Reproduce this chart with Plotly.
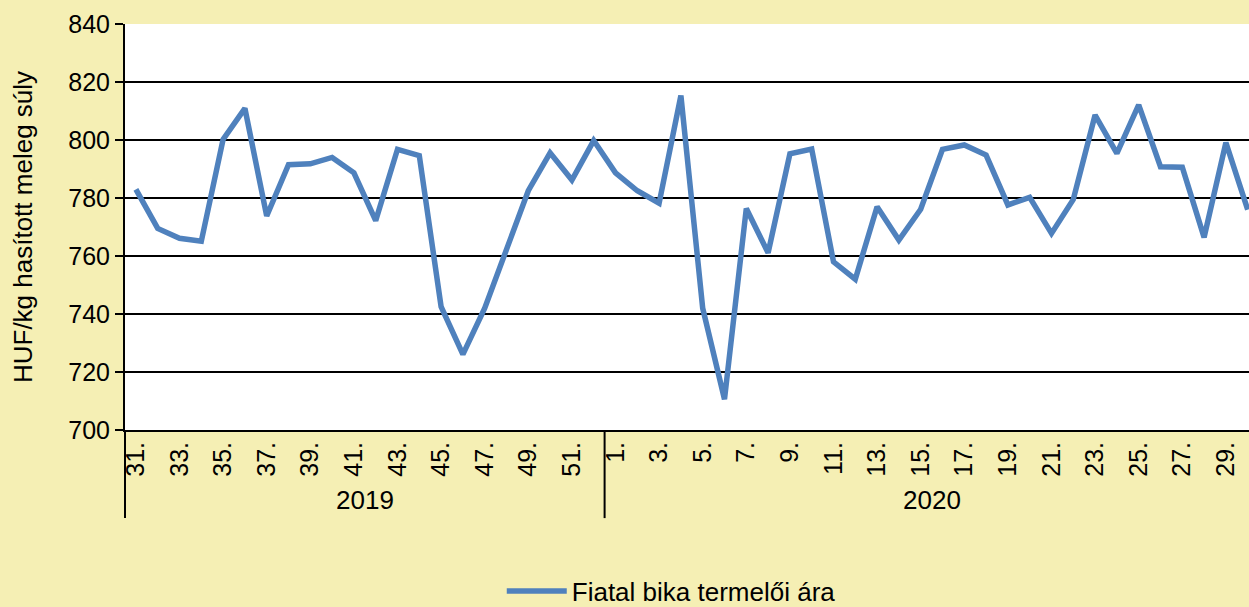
import plotly.graph_objects as go

# ---- data ----
weeks_2019 = list(range(31, 53))
weeks_2020 = list(range(1, 31))
price_2019 = [783.0, 769.5, 766.1, 765.1, 800.2, 810.9, 773.8, 791.5, 791.8, 794.0,
              788.7, 772.2, 796.8, 794.6, 742.5, 726.1, 742.0, 762.1, 782.5, 795.6,
              786.2, 799.8]
price_2020 = [788.7, 782.5, 778.2, 815.3, 742.0, 710.6, 776.4, 761.1, 795.2, 796.9,
              758.0, 752.0, 777.0, 765.5, 776.1, 796.8, 798.3, 794.8, 777.6, 780.2,
              767.8, 779.5, 808.6, 795.4, 812.1, 790.8, 790.6, 766.4, 799.1, 776.0]
years = ["2019", "2020"]
series_name = "Fiatal bika termelői ára"
y_title = "HUF/kg hasított meleg súly"

weeks = weeks_2019 + weeks_2020
prices = price_2019 + price_2020
idx = list(range(len(weeks)))

tickvals = [i for i in idx if weeks[i] % 2 == 1]
ticktext = [f"{weeks[i]}." for i in tickvals]

BG = "rgb(245,239,180)"
FONT = "Liberation Sans, Arial, sans-serif"

x_range = [-0.5, 51.06]

def to_paper(v):
    return (v - x_range[0]) / (x_range[1] - x_range[0])

fig = go.Figure()
fig.add_trace(go.Scatter(
    x=idx, y=prices, mode="lines", name=series_name,
    line=dict(color="#4F81BD", width=5.5), showlegend=True))

# group separators and year labels
n19 = len(weeks_2019)
bounds = [-0.5, n19 - 0.5]
for b in bounds:
    fig.add_shape(type="line", xref="paper", yref="paper",
                  x0=to_paper(b), x1=to_paper(b), y0=0, y1=-0.217,
                  line=dict(color="black", width=2), layer="above")
centers = [(-0.5 + n19 - 0.5) / 2, (n19 - 0.5 + len(weeks) - 0.5) / 2]
for c, yr in zip(centers, years):
    fig.add_annotation(x=c, xref="x", y=-0.172, yref="paper", text=yr,
                       showarrow=False, font=dict(size=26, color="black", family=FONT),
                       yanchor="middle")

fig.update_layout(
    width=1249, height=607,
    paper_bgcolor=BG, plot_bgcolor="white",
    margin=dict(l=125, r=0, t=24, b=177, autoexpand=False),
    font=dict(family=FONT, color="black", size=25),
    showlegend=True,
    legend=dict(orientation="h", x=0.486, y=-0.397, xanchor="center", yanchor="middle",
                font=dict(size=26, family=FONT), bgcolor="rgba(0,0,0,0)", itemwidth=60),
    xaxis=dict(range=x_range, tickmode="array", tickvals=tickvals, ticktext=ticktext,
               tickangle=-90, showgrid=False, zeroline=False, showline=True,
               linecolor="black", linewidth=2, ticks="",
               tickfont=dict(size=25, family=FONT)),
    yaxis=dict(range=[700, 840], dtick=20, showgrid=True, gridcolor="black", gridwidth=2,
               zeroline=False, showline=True, linecolor="black", linewidth=2,
               ticks="outside", ticklen=8, tickwidth=2, tickcolor="black",
               tickfont=dict(size=25, family=FONT),
               title=dict(text=y_title, font=dict(size=26, family=FONT), standoff=28)),
)

fig.write_html("out.html", config={"displayModeBar": False},
               post_script="document.body.style.margin='0';document.body.style.background='rgb(245,239,180)';")
